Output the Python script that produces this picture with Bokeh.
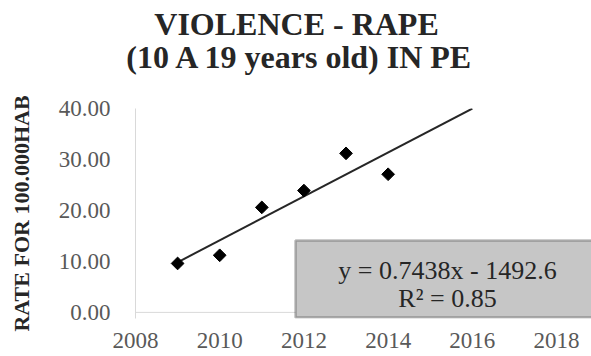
import numpy as np
from bokeh.plotting import figure
from bokeh.layouts import column
from bokeh.models import Range1d, FixedTicker, NumeralTickFormatter, Label, BoxAnnotation, ColumnDataSource, Span
from bokeh.embed import file_html
from bokeh.resources import INLINE

# Data
years = [2009, 2010, 2011, 2012, 2013, 2014]
rates = [9.6, 11.2, 20.6, 23.9, 31.2, 27.1]
x_ticks = [2008, 2010, 2012, 2014, 2016, 2018]
y_ticks = [0, 10, 20, 30, 40]
title_lines = ["VIOLENCE - RAPE", "(10 A 19 years old) IN PE"]
y_label = "RATE FOR 100.000HAB"
eq_text = "y = 0.7438x - 1492.6"
r2_text = "R\u00b2 = 0.85"
trend_end = 2016

FONT = "Liberation Serif"
TITLE_H = 90
LEFT = 135

# ---- title strip (pixel coordinates, y pointing down) ----
t = figure(width=591, height=TITLE_H, output_backend="svg", toolbar_location=None,
           x_range=Range1d(0, 591), y_range=Range1d(TITLE_H, 0), min_border=0)
t.frame_align = False
t.axis.visible = False
t.grid.visible = False
t.outline_line_color = None
t.border_fill_color = "white"
t.add_layout(Label(x=296, y=23, text=title_lines[0], text_align="center", text_baseline="middle",
                   text_font=FONT, text_font_size="32px", text_font_style="bold", text_color="#262626"))
t.add_layout(Label(x=300, y=56, text=title_lines[1], text_align="center", text_baseline="middle",
                   text_font=FONT, text_font_size="32px", text_font_style="bold", text_color="#262626"))

# ---- main chart ----
p = figure(width=591, height=356 - TITLE_H, output_backend="svg", toolbar_location=None,
           x_range=Range1d(2008, 2018.83), y_range=Range1d(-1.2, 40),
           min_border_left=LEFT, min_border_right=0, min_border_top=108 - TITLE_H, min_border_bottom=38)
p.frame_align = False
p.outline_line_color = None
p.grid.visible = False
p.background_fill_color = "white"
p.border_fill_color = "white"

for ax in (p.xaxis[0], p.yaxis[0]):
    ax.axis_line_color = "#d9d9d9"
    ax.axis_line_width = 1
    ax.major_tick_line_color = None
    ax.minor_tick_line_color = None
    ax.major_label_text_font = FONT
    ax.major_label_text_font_size = "23px"
    ax.major_label_text_color = "#595959"

p.xaxis.axis_line_color = None
p.xaxis.ticker = FixedTicker(ticks=x_ticks)
p.xaxis.major_label_standoff = 8
p.yaxis.ticker = FixedTicker(ticks=y_ticks)
p.yaxis.formatter = NumeralTickFormatter(format="0.00")
p.yaxis.major_label_standoff = 19
p.yaxis.axis_label = y_label
p.yaxis.axis_label_text_font = FONT
p.yaxis.axis_label_text_font_size = "22px"
p.yaxis.axis_label_text_font_style = "bold"
p.yaxis.axis_label_text_color = "#262626"
p.yaxis.axis_label_standoff = 22

p.add_layout(Span(location=0, dimension="width", line_color="#d9d9d9", line_width=1))

# trendline (linear fit, forecast forward)
coef = np.polyfit(years, rates, 1)
tx = [years[0], trend_end]
ty = [coef[0] * v + coef[1] for v in tx]
p.line(tx, ty, line_color="#262626", line_width=2)

src = ColumnDataSource(dict(x=years, y=rates))
p.scatter("x", "y", source=src, marker="square", angle=np.pi / 4, size=9,
          fill_color="black", line_color="black")

# equation box
box = BoxAnnotation(left=2011.8, right=2019.5, top=14.1, bottom=-1.0,
                    fill_color="#c6c6c6", fill_alpha=1.0,
                    line_color="#262626", line_width=2.5, level="overlay")
p.add_layout(box)
p.add_layout(Label(x=2015.41, y=8.3, text=eq_text, text_align="center", text_baseline="middle",
                   text_font=FONT, text_font_size="26px", text_color="#262626", level="overlay"))
p.add_layout(Label(x=2015.41, y=2.8, text=r2_text, text_align="center", text_baseline="middle",
                   text_font=FONT, text_font_size="26px", text_color="#262626", level="overlay"))

layout = column(t, p, spacing=0)
open("out.html", "w").write(file_html(layout, INLINE))
